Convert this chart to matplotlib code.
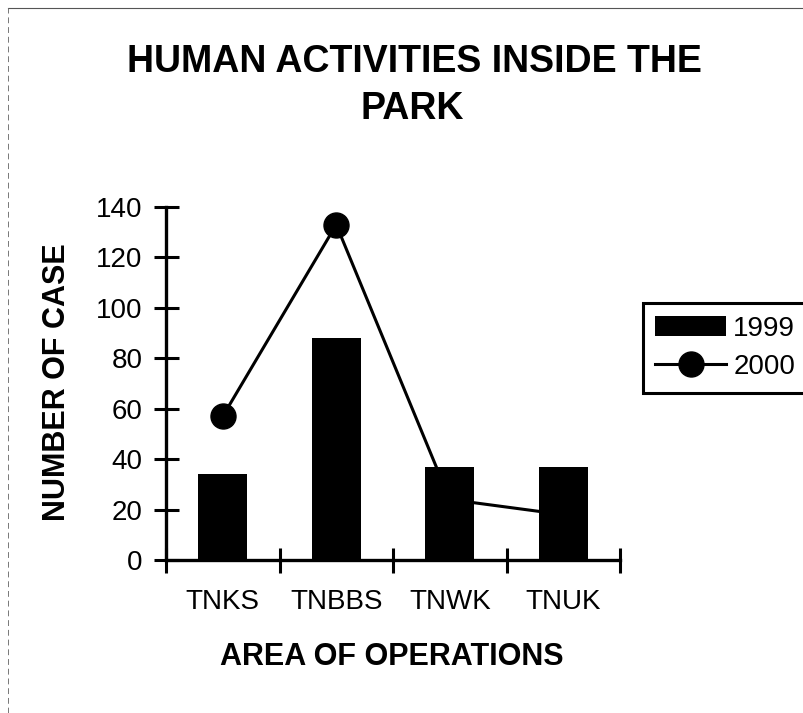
import numpy as np
import matplotlib as mpl
mpl.use('agg')
import matplotlib.pyplot as plt
from matplotlib.lines import Line2D

areas = ['TNKS', 'TNBBS', 'TNWK', 'TNUK']
cases_1999 = [34, 88, 37, 37]
cases_2000 = [57, 133, 24, 18]
y_ticks = [0, 20, 40, 60, 80, 100, 120, 140]

plt.rcParams['font.family'] = ['Liberation Sans', 'DejaVu Sans']

fig = plt.figure(figsize=(8.04, 7.13), dpi=100)
ax = fig.add_axes((166 / 804, 1 - 560 / 713, 454 / 804, 353 / 713))

x = np.arange(len(areas))
ax.plot(x, cases_2000, color='black', linewidth=2.2, marker='o', markersize=18,
        zorder=2, clip_on=False, label='2000')
ax.bar(x, cases_1999, width=0.43, color='black', zorder=3, label='1999')

ax.set_xlim(-0.5, 3.5)
ax.set_ylim(0, 140)
ax.set_yticks(y_ticks)
ax.tick_params(axis='y', direction='inout', length=18, width=2.2, labelsize=20, pad=8)

# category boundaries carry the tick marks, labels sit at centres
ax.set_xticks(np.arange(-0.5, 4, 1))
ax.set_xticklabels([])
ax.set_xticks(x, minor=True)
ax.set_xticklabels(areas, minor=True, fontsize=20)
ax.tick_params(axis='x', which='major', direction='inout', length=18, width=2.2)
ax.tick_params(axis='x', which='minor', length=0, pad=21)

for side in ['top', 'right']:
    ax.spines[side].set_visible(False)
for side in ['left', 'bottom']:
    ax.spines[side].set_linewidth(2.4)

ax.set_xlabel('AREA OF OPERATIONS', fontsize=22, fontweight='bold')
ax.xaxis.set_label_coords(0.497, -0.232)
ax.set_ylabel('NUMBER OF CASE', fontsize=22, fontweight='bold')
ax.yaxis.set_label_coords(-0.208, 0.503)

fig.text(414 / 804, 1 - 72 / 713, 'HUMAN ACTIVITIES INSIDE THE', ha='center', va='baseline',
         fontsize=27, fontweight='bold')
fig.text(412 / 804, 1 - 119 / 713, 'PARK', ha='center', va='baseline',
         fontsize=27, fontweight='bold')

handles, labels = ax.get_legend_handles_labels()
leg = fig.legend(handles[::-1], labels[::-1], loc='upper left',
                 bbox_to_anchor=(643 / 804, 1 - 303 / 713), fontsize=20,
                 frameon=True, fancybox=False, edgecolor='black', framealpha=1,
                 handlelength=2.55, handletextpad=0.25, borderpad=0.45,
                 labelspacing=0.45, borderaxespad=0)
leg.get_frame().set_linewidth(2.2)

# faint scanned page border
fig.add_artist(Line2D([8 / 804, 1], [1 - 8 / 713, 1 - 8 / 713], color='#555555', linewidth=0.8))
fig.add_artist(Line2D([8 / 804, 8 / 804], [0, 1 - 8 / 713], color='#777777', linewidth=0.7,
                      linestyle=(0, (6, 4))))

fig.savefig('out.png', dpi=100)
